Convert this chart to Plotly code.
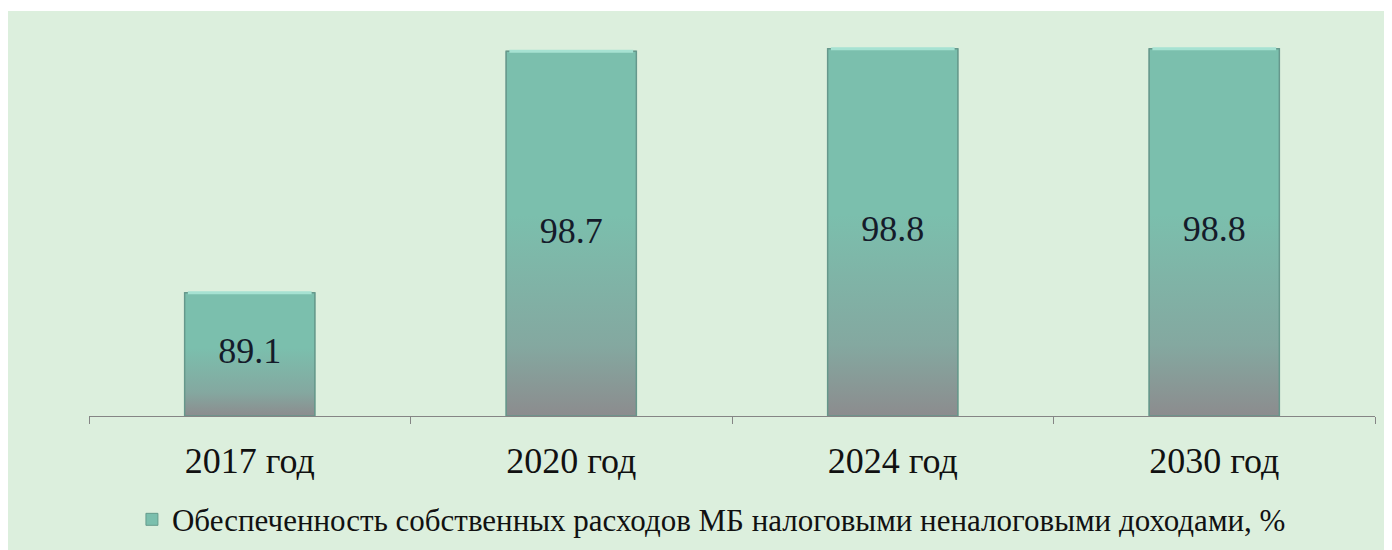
import plotly.graph_objects as go

categories = ["2017 год", "2020 год", "2024 год", "2030 год"]
values = [89.1, 98.7, 98.8, 98.8]
value_labels = ["89.1", "98.7", "98.8", "98.8"]
series_name = "Обеспеченность собственных расходов МБ налоговыми неналоговыми доходами, %"

Y_MIN, Y_MAX = 84.2, 100.3
BAR_W = 0.405
TEAL = "#7bbfad"
GRAY = "#8c8c8e"
BG = "#dcefdd"

x_idx = list(range(len(categories)))

fig = go.Figure()

fig.add_trace(go.Bar(
    x=x_idx, y=[v - Y_MIN for v in values], base=Y_MIN, width=BAR_W,
    marker=dict(color=TEAL, line=dict(color="rgba(95,150,135,0.9)", width=1)),
    name=series_name, showlegend=True, hoverinfo="skip",
))

for i, v in zip(x_idx, values):
    h = v - Y_MIN
    fig.add_trace(go.Scatter(
        x=[i - BAR_W / 2, i + BAR_W / 2, i + BAR_W / 2, i - BAR_W / 2, i - BAR_W / 2],
        y=[Y_MIN, Y_MIN, v, v, Y_MIN],
        mode="lines", line=dict(width=1.5, color="rgba(100,150,138,0.9)"),
        fill="toself",
        fillgradient=dict(type="vertical",
                          colorscale=[[0, GRAY], [0.35, "#84a8a0"], [1, TEAL]],
                          start=Y_MIN, stop=Y_MIN + 0.55 * h),
        showlegend=False, hoverinfo="skip",
    ))
    # top highlight (bevel)
    fig.add_trace(go.Scatter(
        x=[i - BAR_W / 2 + 0.01, i + BAR_W / 2 - 0.01], y=[v, v],
        mode="lines", line=dict(width=3, color="#a6e2d2"),
        showlegend=False, hoverinfo="skip",
    ))

fig.add_trace(go.Scatter(
    x=x_idx, y=[(Y_MIN + v) / 2 for v in values], text=value_labels,
    mode="text", textposition="middle center",
    textfont=dict(family="Liberation Serif", size=36, color="#151b2a"),
    showlegend=False, hoverinfo="skip",
))

fig.update_layout(
    width=1384, height=542,
    margin=dict(l=81, r=17, t=3, b=129),
    paper_bgcolor=BG, plot_bgcolor=BG,
    font=dict(family="Liberation Serif", color="#111111"),
    bargap=0.6,
    xaxis=dict(
        range=[-0.5, 3.5], tickvals=x_idx, ticktext=categories,
        ticks="", showgrid=False, zeroline=False,
        showline=True, linecolor="#858585", linewidth=1,
        tickfont=dict(family="Liberation Serif", size=36, color="#111111"),
        ticklabelstandoff=13,
        minor=dict(tickvals=[-0.5, 0.5, 1.5, 2.5, 3.5], ticks="outside",
                   ticklen=7, tickcolor="#858585", tickwidth=1, showgrid=False),
        fixedrange=True,
    ),
    yaxis=dict(range=[Y_MIN, Y_MAX], visible=False, showgrid=False, fixedrange=True),
    legend=dict(orientation="h", x=0.484, xanchor="center", y=-0.256, yanchor="middle",
                font=dict(family="Liberation Serif", size=31, color="#111111"),
                bgcolor="rgba(0,0,0,0)", itemwidth=30),
    showlegend=True,
    shapes=[
        dict(type="rect", xref="paper", yref="paper", x0=-0.2, x1=1.2,
             y0=1.0, y1=1.05, fillcolor="white", line=dict(width=0), layer="above"),
    ],
)

fig.write_html("out.html")
